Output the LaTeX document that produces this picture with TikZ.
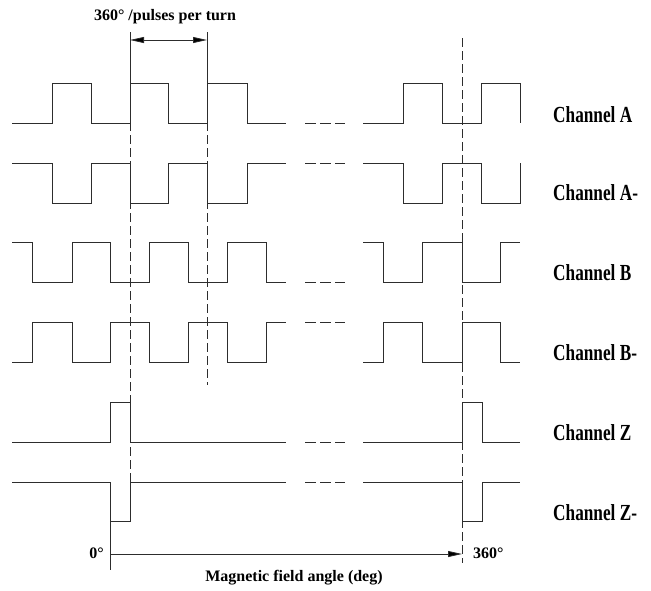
\documentclass[tikz,border=0pt]{standalone}
\usepackage{fontspec}
\setmainfont{Liberation Serif}
\usetikzlibrary{arrows.meta}
\definecolor{lineGray}{RGB}{45,45,45}
\tikzset{
  wave/.style={draw=lineGray,line width=0.9pt},
  gap dash/.style={draw=lineGray,line width=0.9pt,dash pattern=on 11pt off 4pt},
  guide/.style={draw=lineGray,line width=0.8pt,dash pattern=on 9pt off 4pt},
  guide solid/.style={draw=lineGray,line width=0.8pt},
  dim arrow/.style={{Triangle[length=14pt,width=6pt,fill=black]}-{Triangle[length=14pt,width=6pt,fill=black]},draw=lineGray,line width=0.8pt},
  axis arrow/.style={-{Triangle[length=14pt,width=6pt,fill=black]},draw=lineGray,line width=0.8pt},
  chan label/.style={anchor=west,text=black,inner sep=0pt,font=\fontsize{23}{25}\selectfont\bfseries},
  small label/.style={text=black,inner sep=0pt,font=\fontsize{16}{18}\selectfont\bfseries}
}
\newcommand{\narrowtext}[1]{\scalebox{0.75}[1]{#1}}
\begin{document}
\begin{tikzpicture}[x=1pt,y=-1pt]
  \useasboundingbox (0,0) rectangle (651,590);
  % channel A and A-
  \draw[wave] (12,123) -- (52,123) -- (52,83) -- (91,83) -- (91,123) -- (130,123) -- (130,83) -- (168,83) -- (168,123) -- (207,123) -- (207,83) -- (247,83) -- (247,123) -- (286,123);
  \draw[wave] (363,123) -- (403,123) -- (403,83) -- (442,83) -- (442,123) -- (481,123) -- (481,83) -- (520,83) -- (520,123);
  \draw[wave] (12,163) -- (52,163) -- (52,203) -- (91,203) -- (91,163) -- (130,163) -- (130,203) -- (168,203) -- (168,163) -- (207,163) -- (207,203) -- (247,203) -- (247,163) -- (286,163);
  \draw[wave] (363,163) -- (403,163) -- (403,203) -- (442,203) -- (442,163) -- (481,163) -- (481,203) -- (520,203) -- (520,163);
  % channel B and B-
  \draw[wave] (12,242) -- (32,242) -- (32,282) -- (72,282) -- (72,242) -- (110,242) -- (110,282) -- (149,282) -- (149,242) -- (188,242) -- (188,282) -- (227,282) -- (227,242) -- (266,242) -- (266,282) -- (286,282);
  \draw[wave] (363,242) -- (383,242) -- (383,282) -- (422,282) -- (422,242) -- (462,242) -- (462,282) -- (500,282) -- (500,242) -- (520,242);
  \draw[wave] (12,362) -- (32,362) -- (32,322) -- (72,322) -- (72,362) -- (110,362) -- (110,322) -- (149,322) -- (149,362) -- (188,362) -- (188,322) -- (227,322) -- (227,362) -- (266,362) -- (266,322) -- (286,322);
  \draw[wave] (363,362) -- (383,362) -- (383,322) -- (422,322) -- (422,362) -- (462,362) -- (462,322) -- (500,322) -- (500,362) -- (520,362);
  % channel Z and Z-
  \draw[wave] (12,442) -- (110,442) -- (110,402) -- (130,402) -- (130,442) -- (286,442);
  \draw[wave] (363,442) -- (462,442) -- (462,402) -- (482,402) -- (482,442) -- (520,442);
  \draw[wave] (12,482) -- (110,482) -- (110,521) -- (130,521) -- (130,482) -- (286,482);
  \draw[wave] (363,482) -- (462,482) -- (462,521) -- (482,521) -- (482,482) -- (520,482);
  % skipped pulses
  \foreach \yy in {123,163,282,322,442,482}
    \draw[gap dash] (305,\yy) -- (345,\yy);
  % guide lines
  \draw[guide solid] (130,32) -- (130,83);
  \draw[guide solid] (207,32) -- (207,83);
  \draw[guide] (130,83) -- (130,521);
  \draw[guide] (207,83) -- (207,385);
  \draw[guide] (462,38) -- (462,563);
  \draw[guide solid] (110,521) -- (110,570);
  % pulse width dimension
  \coordinate (dimL) at (130,40);
  \coordinate (dimR) at (207,40);
  \draw[dim arrow] (dimL) -- (dimR);
  \node[small label] (pulseLbl) at (165,17) {360° /pulses per turn};
  % angle axis
  \coordinate (ang0) at (110,554);
  \coordinate (ang360) at (462,554);
  \draw[axis arrow] (ang0) -- (ang360);
  \node[small label,anchor=east] (zeroLbl) at (104,553) {0°};
  \node[small label,anchor=west] (fullLbl) at (473,553) {360°};
  \node[small label] (axisLbl) at (294,578) {Magnetic field angle (deg)};
  % channel names
  \node[chan label] (lblA)  at (553,115) {\narrowtext{Channel A}};
  \node[chan label] (lblAn) at (553,193) {\narrowtext{Channel A-}};
  \node[chan label] (lblB)  at (553,273) {\narrowtext{Channel B}};
  \node[chan label] (lblBn) at (553,353) {\narrowtext{Channel B-}};
  \node[chan label] (lblZ)  at (553,433) {\narrowtext{Channel Z}};
  \node[chan label] (lblZn) at (553,513) {\narrowtext{Channel Z-}};
\end{tikzpicture}
\end{document}
